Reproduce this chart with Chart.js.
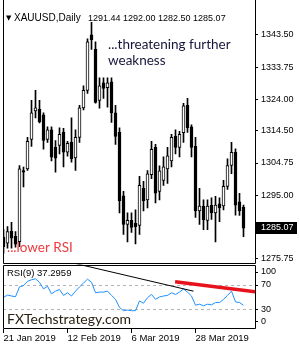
<!DOCTYPE html>
<html>
<head>
<meta charset="utf-8">
<script src="https://cdn.jsdelivr.net/npm/chart.js@4.4.1/dist/chart.umd.min.js"></script>
<style>
  html, body { margin: 0; padding: 0; background: #fff; }
</style>
</head>
<body>
<canvas id="xau" width="300" height="350"></canvas>
<script>
// daily candles, 21 Jan 2019 -> 15 Apr 2019
const open  = [1282.4,1280.5,1284.2,1282.6,1281.0,1302.5,1303.0,1311.9,1320.5,1321.0,
               1319.3,1311.9,1314.8,1309.5,1310.1,1314.0,1308.0,1311.0,1306.3,1312.5,
               1321.4,1326.7,1343.5,1339.1,1323.7,1329.0,1327.5,1329.3,1319.9,1314.0,
               1294.8,1286.2,1287.4,1286.5,1285.9,1297.1,1293.6,1301.2,1309.5,1296.2,
               1299.5,1303.0,1305.4,1312.8,1309.5,1313.9,1322.2,1315.7,1309.8,1290.3,
               1291.7,1287.4,1292.0,1289.7,1292.4,1291.8,1297.7,1304.0,1308.0,1293.0,
               1291.44];
const high  = [1284.7,1285.5,1286.8,1284.0,1304.0,1303.5,1312.5,1323.7,1326.7,1323.7,
               1319.9,1315.7,1315.7,1311.5,1315.4,1315.2,1311.3,1318.4,1314.8,1322.2,
               1328.1,1342.3,1347.3,1341.4,1330.5,1330.5,1330.5,1330.5,1322.2,1315.4,
               1296.2,1289.7,1289.7,1290.6,1300.7,1299.2,1302.5,1311.3,1310.4,1303.9,
               1306.6,1309.5,1313.4,1314.8,1314.3,1322.8,1324.3,1316.3,1312.5,1297.1,
               1293.6,1293.6,1294.2,1294.7,1294.2,1299.5,1306.0,1311.0,1309.0,1295.6,
               1292.00];
const low   = [1277.5,1279.0,1279.0,1279.3,1279.5,1297.5,1302.5,1309.8,1318.4,1316.9,
               1308.9,1311.0,1305.4,1302.0,1307.5,1303.6,1306.8,1305.0,1302.5,1311.0,
               1320.8,1325.8,1339.1,1322.8,1321.3,1324.3,1321.6,1317.0,1310.4,1289.7,
               1283.2,1280.9,1283.8,1280.3,1283.2,1290.3,1291.2,1300.0,1292.7,1293.6,
               1298.0,1298.6,1303.6,1307.5,1306.6,1311.0,1314.0,1306.6,1288.3,1286.2,
               1284.6,1284.6,1287.7,1280.9,1287.0,1290.6,1296.8,1301.5,1289.0,1288.9,
               1282.50];
const close = [1279.5,1284.0,1282.0,1280.2,1303.0,1302.0,1311.3,1319.9,1321.4,1317.2,
               1311.6,1314.8,1306.5,1306.2,1313.4,1308.0,1310.7,1306.0,1312.5,1321.4,
               1326.7,1341.4,1342.0,1323.1,1328.1,1327.3,1329.0,1319.9,1312.8,1293.3,
               1286.2,1287.4,1285.3,1285.5,1298.0,1293.3,1301.5,1308.9,1295.6,1302.4,
               1303.6,1306.9,1312.5,1309.5,1313.4,1322.0,1315.4,1309.5,1290.3,1291.7,
               1287.6,1291.7,1289.7,1292.0,1291.2,1297.7,1304.0,1308.0,1292.0,1290.3,
               1285.07];
const rsi   = [50.0,54.0,52.4,51.3,67.3,69.4,76.4,79.0,80.6,74.8,
               64.0,68.4,56.0,60.4,63.0,53.4,57.7,52.4,60.4,67.3,
               73.7,80.0,74.8,57.7,58.8,58.8,60.4,53.4,47.0,33.7,
               28.4,29.4,28.4,28.4,44.4,40.6,49.7,55.0,47.0,50.8,
               52.4,53.4,57.7,55.0,58.8,64.0,58.8,52.4,37.4,39.0,
               36.4,39.0,38.0,41.7,41.7,47.0,53.4,60.4,42.8,41.7,
               37.2959];

const dateTicks  = [0, 16, 32, 48];
const dateLabels = ['21 Jan 2019', '12 Feb 2019', '6 Mar 2019', '28 Mar 2019'];
const priceTicks = [1275.75, 1295.00, 1304.75, 1314.50, 1324.00, 1333.75, 1343.50];
const rsiLevels  = [0, 30, 70, 100];

// hand drawn trend lines: [candle index, RSI value]
const blackLine = [[8.6, 120], [47.5, 60.3]];
const redLine   = [[42.9, 75.7], [62.9, 59.2]];

const symbol = 'XAUUSD,Daily';
const last = close.length - 1;

const bodyColor = close.map((c, i) => c >= open[i] ? '#ffffff' : '#000000');
const pts = arr => arr.map(p => ({x: p[0], y: p[1]}));
// MT4 keeps the 0 / 100 captions inside the pane
const rsiPos = v => Math.min(Math.max(v, 10), 91);

const overlay = {
    id: 'overlay',
    afterDraw(chart) {
        const ctx = chart.ctx;
        const area = chart.chartArea;
        const p = chart.scales.price;
        const r = chart.scales.rsi;
        const L = Math.round(area.left) + 0.5;
        const R = Math.round(area.right) + 0.5;
        const pb = Math.round(p.bottom) - 0.5;
        const rt = Math.round(r.top) + 1.5;
        const rb = Math.round(r.bottom) - 0.5;
        ctx.save();
        // panel frames
        ctx.strokeStyle = '#000';
        ctx.lineWidth = 1;
        ctx.beginPath();
        ctx.moveTo(L, 0); ctx.lineTo(L, pb); ctx.lineTo(R, pb); ctx.lineTo(R, 0);
        ctx.moveTo(L, rt); ctx.lineTo(R, rt); ctx.lineTo(R, rb); ctx.lineTo(L, rb); ctx.closePath();
        ctx.stroke();

        ctx.textBaseline = 'middle';
        ctx.textAlign = 'left';

        // last price box
        const y = Math.round(p.getPixelForValue(close[last]));
        ctx.fillStyle = '#000';
        ctx.fillRect(Math.round(area.right), y - 6, 42, 12);
        ctx.fillStyle = '#fff';
        ctx.font = '9px "Liberation Sans"';
        ctx.fillText(close[last].toFixed(2), area.right + 6, y);

        // header
        ctx.fillStyle = '#000';
        ctx.font = '7px "DejaVu Sans"';
        ctx.fillText('▼', area.left + 3, p.top + 10);
        ctx.font = '10px "Liberation Sans"';
        ctx.fillText(symbol, area.left + 11, p.top + 10);
        ctx.font = '9px "Liberation Sans"';
        const ohlc = [open[last], high[last], low[last], close[last]].map(v => v.toFixed(2)).join(' ');
        ctx.fillText(ohlc, area.left + 85, p.top + 10);
        ctx.font = '9.5px "Liberation Sans"';
        ctx.fillText('RSI(9) ' + rsi[last].toFixed(4), area.left + 4, r.top + 9);

        // comments
        ctx.font = '13.5px Lato';
        ctx.fillStyle = '#16163a';
        ctx.fillText('...threatening further', area.left + 105, p.top + 36);
        ctx.fillText('weakness', area.left + 105, p.top + 52);
        ctx.fillStyle = '#ee3a3e';
        ctx.fillText('...lower RSI', area.left + 4, p.bottom - 17);
        ctx.font = '14px Lato';
        ctx.fillStyle = '#2a2012';
        ctx.fillText('FXTechstrategy.com', area.left + 4, r.bottom - 10);

        // rsi captions
        ctx.fillStyle = '#000000';
        ctx.font = '9px "Liberation Sans"';
        for (const v of rsiLevels) {
            const yy = Math.round(r.getPixelForValue(rsiPos(v)));
            ctx.fillText(v.toString(), Math.round(area.right) + 6, yy);
        }
        ctx.restore();
    }
};

new Chart(document.getElementById('xau'), {
    data: {
        datasets: [{
            type: 'bar',
            yAxisID: 'price',
            data: low.map((l, i) => ({x: i, y: [l, high[i]]})),
            backgroundColor: '#000',
            barThickness: 1,
            grouped: false,
            order: 5
        }, {
            type: 'bar',
            yAxisID: 'price',
            data: open.map((o, i) => ({x: i, y: [o, close[i]]})),
            backgroundColor: bodyColor,
            borderColor: '#000',
            borderWidth: 1,
            borderSkipped: false,
            barThickness: 3,
            grouped: false,
            order: 4
        }, {
            type: 'line',
            yAxisID: 'rsi',
            data: rsi.map((v, i) => ({x: i, y: v})),
            borderColor: '#1e90ff',
            borderWidth: 1,
            pointRadius: 0,
            tension: 0,
            order: 3
        }, {
            type: 'line',
            yAxisID: 'rsi',
            data: pts(blackLine),
            borderColor: '#000',
            borderWidth: 1,
            pointRadius: 0,
            order: 2
        }, {
            type: 'line',
            yAxisID: 'rsi',
            data: pts(redLine),
            borderColor: '#e8121c',
            borderWidth: 3.5,
            pointRadius: 0,
            order: 1
        }]
    },
    options: {
        responsive: false,
        animation: false,
        devicePixelRatio: 1,
        layout: { padding: { left: 3, top: 1, right: 0, bottom: 0 } },
        font: { family: 'Liberation Sans', size: 9 },
        plugins: {
            legend: { display: false },
            tooltip: { enabled: false }
        },
        scales: {
            x: {
                type: 'linear',
                min: -0.125,
                max: 62.875,
                offset: false,
                afterBuildTicks: s => { s.ticks = dateTicks.map(v => ({value: v})); },
                afterFit: s => { s.height = 21; },
                ticks: {
                    autoSkip: false,
                    maxRotation: 0,
                    align: 'start',
                    padding: 0,
                    color: '#000',
                    font: { family: 'Liberation Sans', size: 9.5 },
                    callback: (v, i) => dateLabels[i]
                },
                grid: { drawOnChartArea: false, offset: false, tickLength: 4, color: '#000' },
                border: { display: false }
            },
            price: {
                type: 'linear',
                position: 'right',
                stack: 'panes',
                stackWeight: 262,
                min: 1274.08,
                max: 1351.48,
                beginAtZero: false,
                afterBuildTicks: s => { s.ticks = priceTicks.map(v => ({value: v})); },
                afterFit: s => { s.width = 45; },
                ticks: {
                    autoSkip: false,
                    padding: 3,
                    color: '#000',
                    font: { family: 'Liberation Sans', size: 9 },
                    callback: v => v.toFixed(2)
                },
                grid: { drawOnChartArea: false, tickLength: 3, color: '#000' },
                border: { display: false }
            },
            rsi: {
                type: 'linear',
                position: 'right',
                stack: 'panes',
                stackWeight: 66,
                min: -1.6,
                max: 104,
                afterBuildTicks: s => { s.ticks = rsiLevels.map(v => ({value: rsiPos(v)})); },
                afterFit: s => { s.width = 45; },
                ticks: { display: false, autoSkip: false },
                grid: {
                    drawOnChartArea: true,
                    tickLength: 3,
                    tickColor: '#000',
                    color: c => (rsiLevels[c.index] === 30 || rsiLevels[c.index] === 70) ? '#b4b4b4' : 'rgba(0,0,0,0)'
                },
                border: { display: false, dash: [3, 3] }
            }
        }
    },
    plugins: [overlay]
});
</script>
</body>
</html>
